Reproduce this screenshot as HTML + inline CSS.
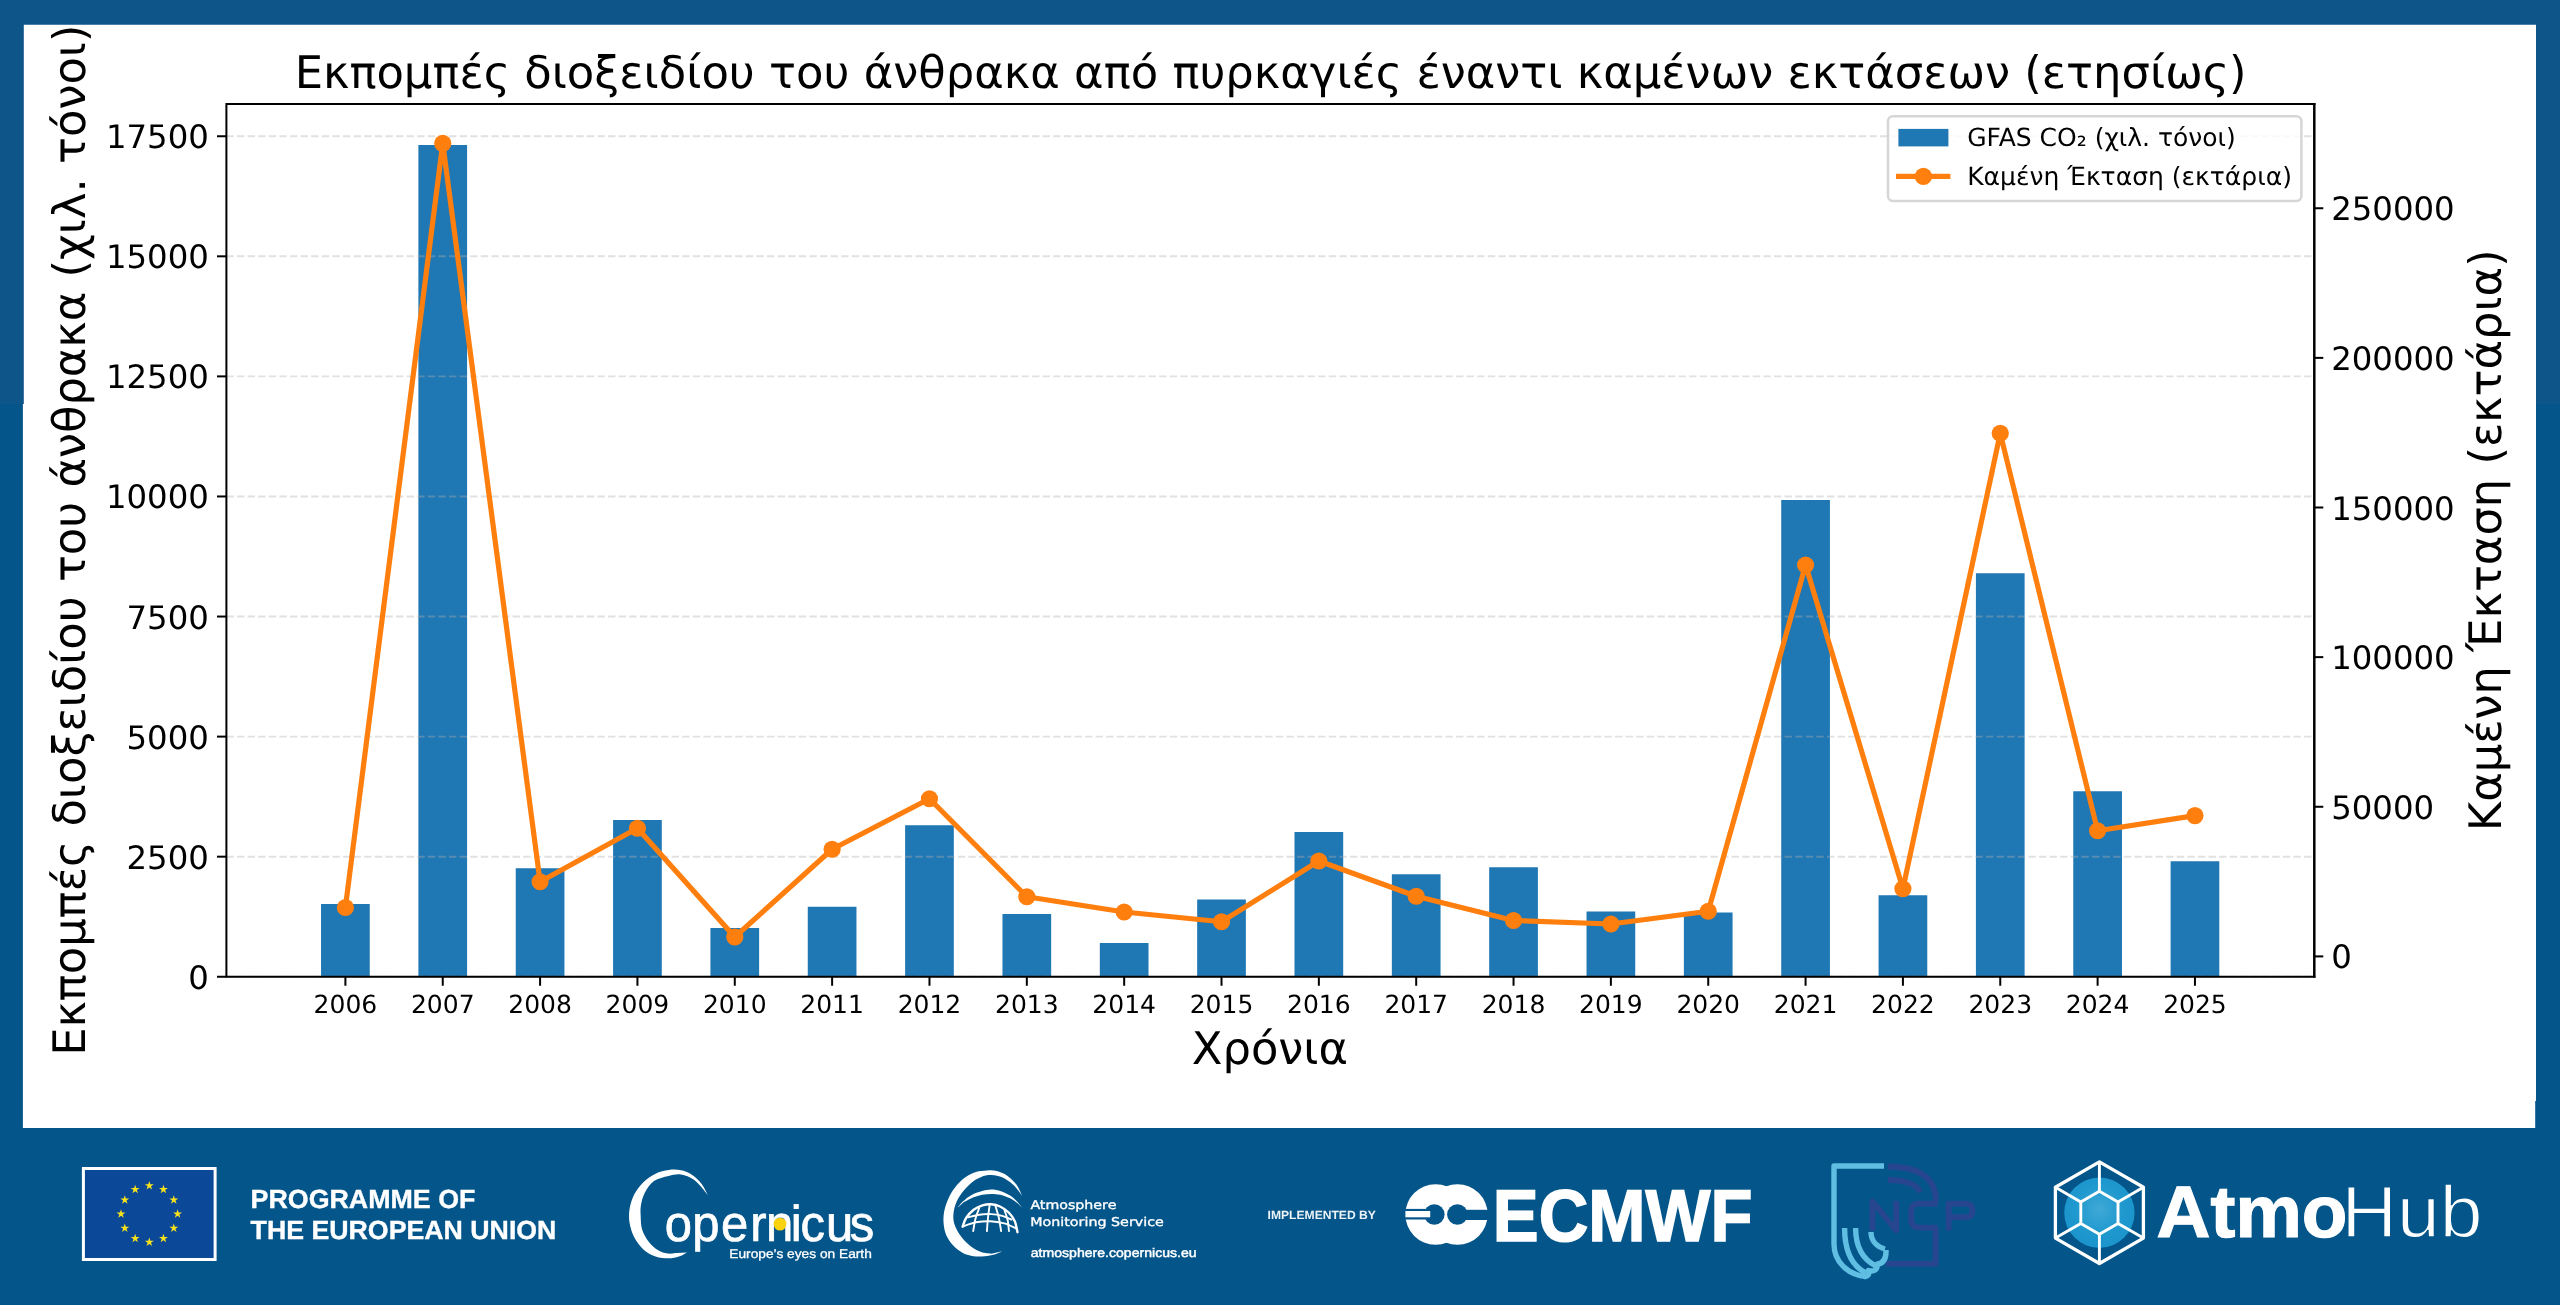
<!DOCTYPE html>
<html lang="el"><head><meta charset="utf-8"><title>Εκπομπές διοξειδίου του άνθρακα από πυρκαγιές</title>
<style>
html,body{margin:0;padding:0;background:#03558a;}
body{width:2560px;height:1305px;overflow:hidden;position:relative;font-family:"DejaVu Sans","Liberation Sans",sans-serif;}
#bgtop{position:absolute;left:0;top:0;width:2560px;height:404px;background:#0e5589;}
svg{position:absolute;left:0;top:0;transform:translateZ(0);will-change:transform;text-rendering:geometricPrecision;}
.dj{font-family:"DejaVu Sans","Liberation Sans",sans-serif;}
.lib{font-family:"Liberation Sans","DejaVu Sans",sans-serif;}
</style></head><body>
<div id="bgtop"></div>
<svg width="2560" height="1305" viewBox="0 0 2560 1305">
<path id="panel" fill="#fff" d="M23.8,24.8H2536V1101H2535.2V1127.9H22.9V404H23.8Z"/>
<g id="chart" class="dj">
<g fill="#1f77b4">
<rect x="321.05" y="904.00" width="48.7" height="72.75"/>
<rect x="418.39" y="145.00" width="48.7" height="831.75"/>
<rect x="515.74" y="868.25" width="48.7" height="108.50"/>
<rect x="613.08" y="820.00" width="48.7" height="156.75"/>
<rect x="710.43" y="928.00" width="48.7" height="48.75"/>
<rect x="807.77" y="906.75" width="48.7" height="70.00"/>
<rect x="905.12" y="825.25" width="48.7" height="151.50"/>
<rect x="1002.47" y="914.00" width="48.7" height="62.75"/>
<rect x="1099.81" y="943.00" width="48.7" height="33.75"/>
<rect x="1197.16" y="899.50" width="48.7" height="77.25"/>
<rect x="1294.50" y="832.00" width="48.7" height="144.75"/>
<rect x="1391.85" y="874.25" width="48.7" height="102.50"/>
<rect x="1489.19" y="867.25" width="48.7" height="109.50"/>
<rect x="1586.53" y="911.50" width="48.7" height="65.25"/>
<rect x="1683.88" y="912.50" width="48.7" height="64.25"/>
<rect x="1781.22" y="500.00" width="48.7" height="476.75"/>
<rect x="1878.57" y="895.25" width="48.7" height="81.50"/>
<rect x="1975.91" y="573.25" width="48.7" height="403.50"/>
<rect x="2073.26" y="791.25" width="48.7" height="185.50"/>
<rect x="2170.61" y="861.25" width="48.7" height="115.50"/>
</g>
<g stroke="#b0b0b0" stroke-opacity="0.38" stroke-width="1.9" stroke-dasharray="7.4 3.2" fill="none">
<line x1="226.4" x2="2314.4" y1="976.75" y2="976.75"/>
<line x1="226.4" x2="2314.4" y1="856.68" y2="856.68"/>
<line x1="226.4" x2="2314.4" y1="736.61" y2="736.61"/>
<line x1="226.4" x2="2314.4" y1="616.54" y2="616.54"/>
<line x1="226.4" x2="2314.4" y1="496.46" y2="496.46"/>
<line x1="226.4" x2="2314.4" y1="376.39" y2="376.39"/>
<line x1="226.4" x2="2314.4" y1="256.32" y2="256.32"/>
<line x1="226.4" x2="2314.4" y1="136.25" y2="136.25"/>
</g>
<polyline points="345.40,907.50 442.75,143.40 540.09,881.75 637.43,828.25 734.78,937.00 832.12,849.25 929.47,798.75 1026.82,896.75 1124.16,912.00 1221.51,921.75 1318.85,861.00 1416.20,896.25 1513.54,920.50 1610.88,924.00 1708.23,911.25 1805.57,565.00 1902.92,888.75 2000.26,433.25 2097.61,830.75 2194.95,815.60" fill="none" stroke="#ff7f0e" stroke-width="5.2" stroke-linejoin="round" stroke-linecap="butt"/>
<g fill="#ff7f0e">
<circle cx="345.40" cy="907.50" r="8.6"/>
<circle cx="442.75" cy="143.40" r="8.6"/>
<circle cx="540.09" cy="881.75" r="8.6"/>
<circle cx="637.43" cy="828.25" r="8.6"/>
<circle cx="734.78" cy="937.00" r="8.6"/>
<circle cx="832.12" cy="849.25" r="8.6"/>
<circle cx="929.47" cy="798.75" r="8.6"/>
<circle cx="1026.82" cy="896.75" r="8.6"/>
<circle cx="1124.16" cy="912.00" r="8.6"/>
<circle cx="1221.51" cy="921.75" r="8.6"/>
<circle cx="1318.85" cy="861.00" r="8.6"/>
<circle cx="1416.20" cy="896.25" r="8.6"/>
<circle cx="1513.54" cy="920.50" r="8.6"/>
<circle cx="1610.88" cy="924.00" r="8.6"/>
<circle cx="1708.23" cy="911.25" r="8.6"/>
<circle cx="1805.57" cy="565.00" r="8.6"/>
<circle cx="1902.92" cy="888.75" r="8.6"/>
<circle cx="2000.26" cy="433.25" r="8.6"/>
<circle cx="2097.61" cy="830.75" r="8.6"/>
<circle cx="2194.95" cy="815.60" r="8.6"/>
</g>
<path d="M2314.4,103.95H226.4V976.75H2314.4" fill="none" stroke="#000" stroke-width="2" stroke-linecap="square"/>
<line x1="2314.3" x2="2314.3" y1="102.95" y2="977.75" stroke="#000" stroke-width="2.5"/>
<g stroke="#000" stroke-width="2">
<line x1="217.0" x2="226.4" y1="976.75" y2="976.75"/>
<line x1="217.0" x2="226.4" y1="856.68" y2="856.68"/>
<line x1="217.0" x2="226.4" y1="736.61" y2="736.61"/>
<line x1="217.0" x2="226.4" y1="616.54" y2="616.54"/>
<line x1="217.0" x2="226.4" y1="496.46" y2="496.46"/>
<line x1="217.0" x2="226.4" y1="376.39" y2="376.39"/>
<line x1="217.0" x2="226.4" y1="256.32" y2="256.32"/>
<line x1="217.0" x2="226.4" y1="136.25" y2="136.25"/>
<line x1="2314.4" x2="2323.3" y1="956.4" y2="956.4"/>
<line x1="2314.4" x2="2323.3" y1="806.77" y2="806.77"/>
<line x1="2314.4" x2="2323.3" y1="657.14" y2="657.14"/>
<line x1="2314.4" x2="2323.3" y1="507.5" y2="507.5"/>
<line x1="2314.4" x2="2323.3" y1="357.87" y2="357.87"/>
<line x1="2314.4" x2="2323.3" y1="208.24" y2="208.24"/>
<line x1="345.40" x2="345.40" y1="976.75" y2="985.75"/>
<line x1="442.75" x2="442.75" y1="976.75" y2="985.75"/>
<line x1="540.09" x2="540.09" y1="976.75" y2="985.75"/>
<line x1="637.43" x2="637.43" y1="976.75" y2="985.75"/>
<line x1="734.78" x2="734.78" y1="976.75" y2="985.75"/>
<line x1="832.12" x2="832.12" y1="976.75" y2="985.75"/>
<line x1="929.47" x2="929.47" y1="976.75" y2="985.75"/>
<line x1="1026.82" x2="1026.82" y1="976.75" y2="985.75"/>
<line x1="1124.16" x2="1124.16" y1="976.75" y2="985.75"/>
<line x1="1221.51" x2="1221.51" y1="976.75" y2="985.75"/>
<line x1="1318.85" x2="1318.85" y1="976.75" y2="985.75"/>
<line x1="1416.20" x2="1416.20" y1="976.75" y2="985.75"/>
<line x1="1513.54" x2="1513.54" y1="976.75" y2="985.75"/>
<line x1="1610.88" x2="1610.88" y1="976.75" y2="985.75"/>
<line x1="1708.23" x2="1708.23" y1="976.75" y2="985.75"/>
<line x1="1805.57" x2="1805.57" y1="976.75" y2="985.75"/>
<line x1="1902.92" x2="1902.92" y1="976.75" y2="985.75"/>
<line x1="2000.26" x2="2000.26" y1="976.75" y2="985.75"/>
<line x1="2097.61" x2="2097.61" y1="976.75" y2="985.75"/>
<line x1="2194.95" x2="2194.95" y1="976.75" y2="985.75"/>
</g>
<g font-size="32.35" fill="#000">
<text x="208.8" y="988.75" text-anchor="end">0</text>
<text x="208.8" y="868.68" text-anchor="end">2500</text>
<text x="208.8" y="748.61" text-anchor="end">5000</text>
<text x="208.8" y="628.54" text-anchor="end">7500</text>
<text x="208.8" y="508.46" text-anchor="end">10000</text>
<text x="208.8" y="388.39" text-anchor="end">12500</text>
<text x="208.8" y="268.32" text-anchor="end">15000</text>
<text x="208.8" y="148.25" text-anchor="end">17500</text>
<text x="2331.2" y="968.40">0</text>
<text x="2331.2" y="818.77">50000</text>
<text x="2331.2" y="669.14">100000</text>
<text x="2331.2" y="519.50">150000</text>
<text x="2331.2" y="369.87">200000</text>
<text x="2331.2" y="220.24">250000</text>
</g>
<g font-size="25" fill="#000" text-anchor="middle">
<text x="345.40" y="1013.2">2006</text>
<text x="442.75" y="1013.2">2007</text>
<text x="540.09" y="1013.2">2008</text>
<text x="637.43" y="1013.2">2009</text>
<text x="734.78" y="1013.2">2010</text>
<text x="832.12" y="1013.2">2011</text>
<text x="929.47" y="1013.2">2012</text>
<text x="1026.82" y="1013.2">2013</text>
<text x="1124.16" y="1013.2">2014</text>
<text x="1221.51" y="1013.2">2015</text>
<text x="1318.85" y="1013.2">2016</text>
<text x="1416.20" y="1013.2">2017</text>
<text x="1513.54" y="1013.2">2018</text>
<text x="1610.88" y="1013.2">2019</text>
<text x="1708.23" y="1013.2">2020</text>
<text x="1805.57" y="1013.2">2021</text>
<text x="1902.92" y="1013.2">2022</text>
<text x="2000.26" y="1013.2">2023</text>
<text x="2097.61" y="1013.2">2024</text>
<text x="2194.95" y="1013.2">2025</text>
</g>
<text x="1270.6" y="87.6" font-size="44.87" text-anchor="middle">Εκπομπές διοξειδίου του άνθρακα από πυρκαγιές έναντι καμένων εκτάσεων (ετησίως)</text>
<text x="1269.9" y="1064.3" font-size="44.8" text-anchor="middle">Χρόνια</text>
<text transform="translate(85.4 540.2) rotate(-90)" font-size="44.8" text-anchor="middle">Εκπομπές διοξειδίου του άνθρακα (χιλ. τόνοι)</text>
<text transform="translate(2501 540.3) rotate(-90)" font-size="44.8" text-anchor="middle">Καμένη Έκταση (εκτάρια)</text>
<rect x="1888" y="116.2" width="413.4" height="84.8" rx="5" ry="5" fill="#fff" fill-opacity="0.8" stroke="#ccc" stroke-opacity="0.8" stroke-width="2.5"/>
<rect x="1898.4" y="128.9" width="50" height="17.5" fill="#1f77b4"/>
<line x1="1896" x2="1950.4" y1="176.4" y2="176.4" stroke="#ff7f0e" stroke-width="5.2"/>
<circle cx="1923.4" cy="176.4" r="8.6" fill="#ff7f0e"/>
<text x="1967.2" y="146.2" font-size="25">GFAS CO₂ (χιλ. τόνοι)</text>
<text x="1967.2" y="184.5" font-size="25">Καμένη Έκταση (εκτάρια)</text>
</g>
<g id="footer">
<g id="eu-flag">
<rect x="83.4" y="1168.5" width="131.7" height="91" fill="#0b4898" stroke="#fff" stroke-width="3"/>
<g fill="#f7e21c">
<polygon points="149.30,1181.00 150.36,1184.24 153.77,1184.25 151.01,1186.26 152.06,1189.50 149.30,1187.50 146.54,1189.50 147.59,1186.26 144.83,1184.25 148.24,1184.24"/>
<polygon points="163.45,1184.79 164.51,1188.04 167.92,1188.04 165.16,1190.05 166.21,1193.29 163.45,1191.29 160.69,1193.29 161.74,1190.05 158.98,1188.04 162.39,1188.04"/>
<polygon points="173.81,1195.15 174.87,1198.39 178.28,1198.40 175.52,1200.41 176.57,1203.65 173.81,1201.65 171.05,1203.65 172.10,1200.41 169.34,1198.40 172.75,1198.39"/>
<polygon points="177.60,1209.30 178.66,1212.54 182.07,1212.55 179.31,1214.56 180.36,1217.80 177.60,1215.80 174.84,1217.80 175.89,1214.56 173.13,1212.55 176.54,1212.54"/>
<polygon points="173.81,1223.45 174.87,1226.69 178.28,1226.70 175.52,1228.71 176.57,1231.95 173.81,1229.95 171.05,1231.95 172.10,1228.71 169.34,1226.70 172.75,1226.69"/>
<polygon points="163.45,1233.81 164.51,1237.05 167.92,1237.06 165.16,1239.06 166.21,1242.31 163.45,1240.31 160.69,1242.31 161.74,1239.06 158.98,1237.06 162.39,1237.05"/>
<polygon points="149.30,1237.60 150.36,1240.84 153.77,1240.85 151.01,1242.86 152.06,1246.10 149.30,1244.10 146.54,1246.10 147.59,1242.86 144.83,1240.85 148.24,1240.84"/>
<polygon points="135.15,1233.81 136.21,1237.05 139.62,1237.06 136.86,1239.06 137.91,1242.31 135.15,1240.31 132.39,1242.31 133.44,1239.06 130.68,1237.06 134.09,1237.05"/>
<polygon points="124.79,1223.45 125.85,1226.69 129.26,1226.70 126.50,1228.71 127.55,1231.95 124.79,1229.95 122.03,1231.95 123.08,1228.71 120.32,1226.70 123.73,1226.69"/>
<polygon points="121.00,1209.30 122.06,1212.54 125.47,1212.55 122.71,1214.56 123.76,1217.80 121.00,1215.80 118.24,1217.80 119.29,1214.56 116.53,1212.55 119.94,1212.54"/>
<polygon points="124.79,1195.15 125.85,1198.39 129.26,1198.40 126.50,1200.41 127.55,1203.65 124.79,1201.65 122.03,1203.65 123.08,1200.41 120.32,1198.40 123.73,1198.39"/>
<polygon points="135.15,1184.79 136.21,1188.04 139.62,1188.04 136.86,1190.05 137.91,1193.29 135.15,1191.29 132.39,1193.29 133.44,1190.05 130.68,1188.04 134.09,1188.04"/>
</g></g>
<g class="lib" font-weight="700" font-size="26.2" fill="#fff" stroke="#fff" stroke-width="0.35">
<text x="250.6" y="1208.1" textLength="224.8" lengthAdjust="spacingAndGlyphs">PROGRAMME OF</text>
<text x="250.6" y="1239.4" textLength="305.8" lengthAdjust="spacingAndGlyphs">THE EUROPEAN UNION</text>
</g>
<g id="copernicus" fill="#fff">
<path d="M708.4,1196.1 C707.2,1194.0 704.2,1187.1 701.3,1183.4 C698.4,1179.8 694.5,1176.4 691.1,1174.2 C687.7,1172.0 684.6,1170.9 680.9,1170.2 C677.2,1169.5 673.0,1169.4 668.8,1170.0 C664.5,1170.6 659.7,1171.7 655.5,1173.7 C651.3,1175.8 646.9,1178.8 643.4,1182.3 C639.9,1185.8 636.5,1190.1 634.2,1194.5 C631.9,1198.9 630.4,1204.0 629.6,1208.8 C628.8,1213.5 628.8,1218.3 629.6,1223.0 C630.4,1227.7 631.9,1232.8 634.2,1237.2 C636.5,1241.6 639.9,1246.2 643.4,1249.4 C646.9,1252.6 651.3,1255.0 655.5,1256.5 C659.7,1258.0 664.9,1258.3 668.8,1258.3 C672.6,1258.3 675.9,1257.5 678.9,1256.5 C681.9,1255.5 685.6,1253.1 687.0,1252.4 L676.9,1253.1 C675.4,1253.2 670.7,1254.0 667.5,1253.5 C664.4,1253.0 661.3,1252.1 658.2,1250.2 C655.1,1248.3 651.6,1245.4 648.9,1241.9 C646.2,1238.4 643.4,1233.7 642.1,1229.4 C640.7,1225.1 640.9,1219.9 640.7,1216.0 C640.5,1212.0 640.3,1209.3 640.9,1205.5 C641.6,1201.7 642.5,1197.1 644.7,1193.0 C646.8,1188.9 650.0,1183.9 654.0,1181.0 C658.0,1178.2 664.1,1177.0 668.6,1175.9 C673.1,1174.8 676.9,1173.9 681.0,1174.5 C685.2,1175.1 689.9,1177.1 693.5,1179.5 C697.2,1181.9 701.4,1187.3 703.0,1188.9Z"/>
<g transform="scale(0.97 1)"><text class="lib" y="1241.3" font-size="50.5" stroke="#fff" stroke-width="0.7" x="685.30 713.63 743.24 773.38 789.68 815.26 825.24 851.64 876.09">opernicus</text></g>
<circle cx="780" cy="1224.1" r="6.4" fill="#fdd20e"/>
<text class="lib" x="729.3" y="1258.4" font-size="12.6" textLength="142.5" lengthAdjust="spacingAndGlyphs" stroke="#fff" stroke-width="0.3">Europe’s eyes on Earth</text>
</g>
<g id="cams" fill="#fff">
<path d="M1022.4,1196.6 C1021.4,1194.6 1019.0,1188.2 1016.4,1184.6 C1013.8,1181.1 1009.8,1177.6 1006.6,1175.3 C1003.3,1173.0 1000.0,1171.8 996.7,1170.9 C993.4,1170.1 990.3,1170.2 986.9,1170.4 C983.4,1170.6 979.6,1170.8 975.9,1172.0 C972.3,1173.2 968.5,1174.9 965.0,1177.5 C961.5,1180.1 958.0,1183.7 955.2,1187.3 C952.3,1191.0 949.9,1195.2 948.0,1199.4 C946.2,1203.6 944.7,1208.3 944.0,1212.5 C943.3,1216.7 943.3,1220.7 943.7,1224.5 C944.1,1228.4 944.9,1232.0 946.4,1235.5 C948.0,1238.9 950.2,1242.4 953.0,1245.3 C955.7,1248.2 959.3,1251.1 962.8,1253.0 C966.3,1254.8 970.1,1255.7 973.7,1256.2 C977.4,1256.8 981.2,1256.5 984.7,1256.2 C988.2,1256.0 991.6,1255.4 994.5,1254.6 C997.4,1253.8 1000.9,1251.9 1002.2,1251.3 L991.4,1253.7 C989.7,1253.4 984.6,1253.3 981.2,1252.1 C977.8,1250.9 974.2,1248.9 971.0,1246.5 C967.8,1244.0 964.4,1240.7 961.9,1237.4 C959.3,1234.2 957.0,1230.6 955.6,1227.2 C954.2,1223.8 953.3,1220.8 953.3,1217.0 C953.3,1213.2 954.1,1208.5 955.5,1204.5 C956.9,1200.5 959.2,1196.7 961.8,1193.1 C964.3,1189.6 967.7,1185.9 970.9,1183.2 C974.1,1180.4 977.8,1178.2 981.2,1176.9 C984.6,1175.5 987.8,1175.0 991.4,1175.1 C995.0,1175.2 999.1,1176.0 1002.7,1177.6 C1006.3,1179.2 1010.0,1182.1 1012.9,1184.6 C1015.8,1187.1 1018.7,1191.3 1019.9,1192.7Z"/>
<path d="M957.3,1208.1 C958.3,1207.0 960.4,1203.7 962.8,1201.6 C965.2,1199.4 968.5,1196.7 971.6,1195.0 C974.7,1193.3 978.1,1192.1 981.4,1191.2 C984.7,1190.3 988.0,1189.5 991.2,1189.5 C994.5,1189.5 997.8,1190.1 1001.1,1191.2 C1004.4,1192.3 1008.2,1194.3 1010.9,1196.1 C1013.7,1197.9 1015.6,1200.1 1017.5,1202.1 C1019.4,1204.1 1021.6,1207.1 1022.4,1208.1 L1017.6,1203.2 C1016.3,1202.4 1012.5,1199.5 1009.6,1198.1 C1006.7,1196.7 1003.5,1195.4 1000.4,1194.7 C997.4,1194.0 994.4,1193.9 991.3,1193.9 C988.3,1193.9 985.2,1194.1 982.2,1194.7 C979.1,1195.3 976.1,1196.3 973.0,1197.5 C970.0,1198.8 965.4,1201.3 963.9,1202.1Z"/>
<g fill="none" stroke="#fff" stroke-width="1.9" stroke-linecap="round">
<path d="M962.6,1226.7 C963.2,1225.3 964.2,1220.8 966.1,1218.0 C968.0,1215.1 971.0,1211.9 973.7,1209.8 C976.5,1207.7 979.6,1206.3 982.5,1205.4 C985.4,1204.5 988.3,1204.1 991.2,1204.3 C994.2,1204.5 997.1,1205.1 1000.0,1206.5 C1002.9,1207.9 1006.3,1210.0 1008.7,1212.5 C1011.2,1215.0 1013.3,1218.0 1014.8,1221.2 C1016.2,1224.5 1017.0,1230.4 1017.5,1232.2" stroke-width="2.4"/>
<path d="M968.3,1217.4 C970.1,1217.0 975.4,1215.2 979.2,1214.7 C983.0,1214.1 987.4,1214.0 991.2,1214.1 C995.1,1214.3 998.8,1214.9 1002.2,1215.8 C1005.6,1216.7 1009.9,1219.0 1011.5,1219.6"/>
<path d="M963.4,1226.2 C965.5,1225.5 971.5,1223.2 975.9,1222.3 C980.4,1221.5 985.4,1221.1 990.2,1221.2 C994.9,1221.4 1000.1,1222.3 1004.4,1223.4 C1008.7,1224.6 1013.9,1227.5 1015.9,1228.4"/>
<path d="M979.2,1208.1 C978.6,1209.9 976.4,1215.2 975.4,1219.1 C974.4,1222.9 973.6,1229.1 973.2,1231.1"/>
<path d="M989.6,1205.4 C989.3,1207.5 988.4,1213.7 988.0,1218.0 C987.5,1222.3 987.1,1228.9 986.9,1231.1"/>
<path d="M995.6,1206.5 C996.2,1208.4 998.0,1213.9 998.9,1218.0 C999.8,1222.1 1000.7,1228.9 1001.1,1231.1"/>
<path d="M1004.4,1209.8 C1004.9,1211.5 1006.9,1216.6 1007.7,1220.2 C1008.4,1223.7 1008.7,1229.3 1009.0,1231.1"/>
</g>
<g class="dj" font-size="12.1" stroke="#fff" stroke-width="0.35">
<text x="1030.4" y="1208.7" textLength="86" lengthAdjust="spacingAndGlyphs">Atmosphere</text>
<text x="1030.2" y="1226.2" textLength="133.6" lengthAdjust="spacingAndGlyphs">Monitoring Service</text>
</g>
<text class="lib" x="1030.8" y="1256.8" font-size="12.6" stroke="#fff" stroke-width="0.45" textLength="165.8" lengthAdjust="spacingAndGlyphs">atmosphere.copernicus.eu</text>
</g>
<g id="ecmwf">
<text class="lib" x="1267.6" y="1219" font-size="11.9" font-weight="700" fill="#fff" fill-opacity="0.93" textLength="108.2" lengthAdjust="spacingAndGlyphs">IMPLEMENTED BY</text>
<circle cx="1435.6" cy="1214.5" r="30.3" fill="#fff"/><circle cx="1457.4" cy="1214.5" r="30.3" fill="#fff"/>
<circle cx="1434.3" cy="1214.5" r="10.3" fill="#03558a"/><circle cx="1457.4" cy="1214.5" r="10.3" fill="#03558a"/>
<rect x="1457" y="1209.8" width="32" height="10.2" fill="#03558a"/>
<rect x="1404" y="1208.9" width="30" height="10.6" fill="#03558a"/>
<rect x="1405.4" y="1211" width="24.8" height="6.3" fill="#fff"/>
<text class="lib" x="1492.8" y="1241.3" font-size="73.4" font-weight="700" fill="#fff" stroke="#fff" stroke-width="1.6" textLength="259.7" lengthAdjust="spacingAndGlyphs">ECMWF</text>
</g>
<g id="ncp" fill="none" stroke-linecap="butt" stroke-linejoin="round">
<g stroke="#27468f" stroke-width="5.8">
<path d="M1872.5,1230.5V1201.5L1896.2,1230.5V1201"/>
<path d="M1937.5,1203.6H1919Q1911.2,1203.6 1911.2,1211.5V1219.5Q1911.2,1227.6 1919,1227.6H1937.5"/>
<path d="M1948.6,1230.5V1203.6H1965.5Q1972.6,1203.6 1972.6,1210.4Q1972.6,1217.2 1965.5,1217.2H1948.6"/>
<path d="M1888,1166.5Q1931,1166.5 1935.6,1195V1203.6"/>
<path d="M1888,1180Q1914,1180 1920.5,1192"/>
<path d="M1935.6,1227.6V1263.8H1886"/>
</g>
<g stroke="#5fbee1" stroke-width="5.4">
<path d="M1884,1166H1834V1244C1834,1262 1848,1275 1866,1276.5"/>
<path d="M1844.6,1228C1844.6,1250 1852,1266 1866,1273"/>
<path d="M1855.6,1228C1855.6,1246 1862,1259 1876,1266"/>
<path d="M1871,1232C1871,1240 1876,1246.5 1885,1249"/>
<path d="M1864,1276.5Q1870,1277 1868.5,1270.5Q1877,1273 1877.5,1264Q1886.5,1263 1886,1250"/>
</g></g>
<g id="atmohub">
<defs><radialGradient id="hubg" cx="0.5" cy="0.45" r="0.6"><stop offset="0" stop-color="#3fa9d6"/><stop offset="0.55" stop-color="#2099cf"/><stop offset="1" stop-color="#1a92cb"/></radialGradient></defs>
<circle cx="2099.4" cy="1212.7" r="35.2" fill="url(#hubg)"/>
<g fill="none" stroke="#fff" stroke-width="2.9" stroke-linejoin="round">
<polygon points="2099.4,1161.9 2143.4,1187.3 2143.4,1238.1 2099.4,1263.5 2055.4,1238.1 2055.4,1187.3" stroke-width="3.3"/>
<polygon points="2099.4,1191.2 2118.0,1202.0 2118.0,1223.5 2099.4,1234.2 2080.8,1223.5 2080.8,1202.0"/>
<line x1="2099.4" y1="1161.9" x2="2099.4" y2="1191.2"/>
<line x1="2143.4" y1="1187.3" x2="2118.0" y2="1202.0"/>
<line x1="2143.4" y1="1238.1" x2="2118.0" y2="1223.5"/>
<line x1="2099.4" y1="1263.5" x2="2099.4" y2="1234.2"/>
<line x1="2055.4" y1="1238.1" x2="2080.8" y2="1223.5"/>
<line x1="2055.4" y1="1187.3" x2="2080.8" y2="1202.0"/>
</g>
<text class="lib" x="2156.6" y="1237.3" font-size="73" font-weight="700" fill="#fff" stroke="#fff" stroke-width="1.2" textLength="190.8" lengthAdjust="spacingAndGlyphs">Atmo</text>
<text class="lib" x="2341.5" y="1237.3" font-size="73" fill="#fff" stroke="#03558a" stroke-width="1.4" textLength="141" lengthAdjust="spacingAndGlyphs">Hub</text>
</g>
</g>
</svg></body></html>
